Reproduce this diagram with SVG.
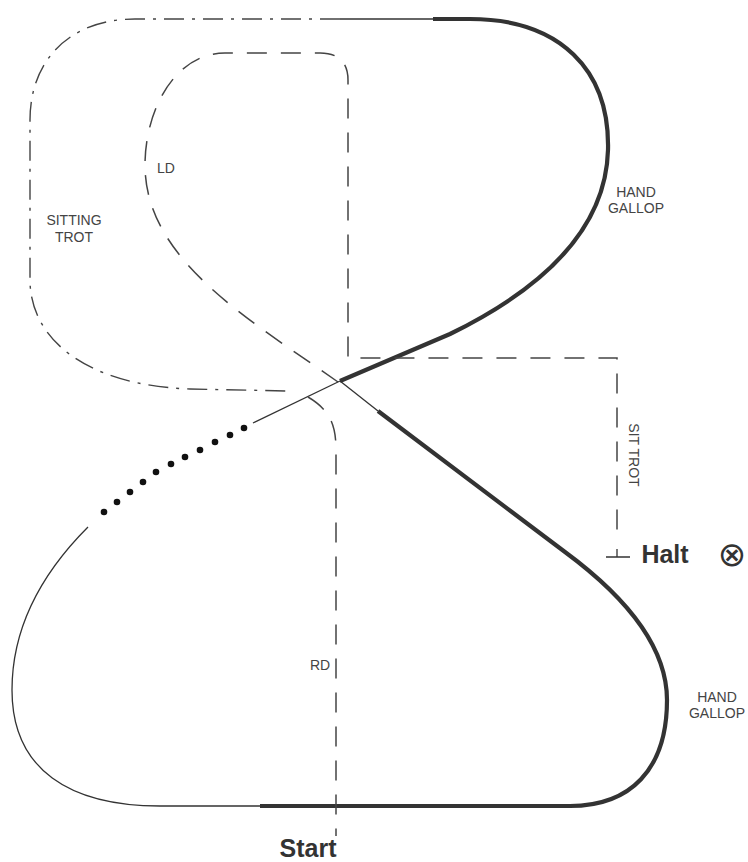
<svg xmlns="http://www.w3.org/2000/svg" width="748" height="862" viewBox="0 0 748 862">
<style>
.thin{fill:none;stroke:#333;stroke-width:1.3}
.thick{fill:none;stroke:#333;stroke-width:4.2}
.dd{fill:none;stroke:#444;stroke-width:1.4;stroke-dasharray:20 8 3 8}
.dash{fill:none;stroke:#444;stroke-width:1.5;stroke-dasharray:20 14}
.lbl{font-family:"Liberation Sans",Arial,sans-serif;font-size:14px;fill:#444;text-anchor:middle}
.big{font-family:"Liberation Sans",Arial,sans-serif;font-size:25px;font-weight:bold;fill:#333;text-anchor:middle}
.dot{fill:#111}
</style>
<rect width="748" height="862" fill="#fff"/>
<g id="connectors">
  <path class="dd" d="M 340,19 L 135,19 C 70,19 30,60 30,120 L 30,280 C 30,335 80,385 190,389 L 287,391"/>
  <path class="thin" d="M 340,19 L 433,19"/>
  <path class="thick" d="M 433,19 L 470,19 C 560,19 610,70 608,150 C 606,230 540,290 450,334 L 340,381"/>
  <path class="dash" d="M 338,382 C 250,320 145,260 145,165 C 145,110 175,53 225,53 L 320,53 C 338,53 348,62 348,80 L 348,358 L 617,358 L 617,533"/>
  <path class="thin" d="M 617,549 L 617,557 M 606,557 L 630,557"/>
  <path class="thin" d="M 340,381 L 253,423"/>
  <path class="thin" d="M 88,527 C 40,575 12,630 12,690 C 12,770 70,806 160,806 L 262,806"/>
  <path class="thin" d="M 340,381 L 378,411"/>
  <path class="thick" d="M 378,411 L 565,552 C 630,600 667,650 667,700 C 667,770 630,806 570,806 L 260,806"/>
  <path class="dash" d="M 308,397 C 330,410 336,425 336,450 L 336,836"/>
  <g id="dots">
    <circle class="dot" cx="244" cy="428" r="3.3"/>
    <circle class="dot" cx="230" cy="435" r="3.3"/>
    <circle class="dot" cx="215" cy="442" r="3.3"/>
    <circle class="dot" cx="200" cy="450" r="3.3"/>
    <circle class="dot" cx="185" cy="457" r="3.3"/>
    <circle class="dot" cx="171" cy="464" r="3.3"/>
    <circle class="dot" cx="156" cy="472" r="3.3"/>
    <circle class="dot" cx="143" cy="482" r="3.3"/>
    <circle class="dot" cx="130" cy="492" r="3.3"/>
    <circle class="dot" cx="117" cy="502" r="3.3"/>
    <circle class="dot" cx="104" cy="512" r="3.3"/>
  </g>
</g>
<g id="label-sitting-trot"><text class="lbl" x="74" y="225">SITTING</text><text class="lbl" x="74" y="242">TROT</text></g>
<g id="label-ld"><text class="lbl" x="166" y="173">LD</text></g>
<g id="label-hand-gallop-1"><text class="lbl" x="636" y="197">HAND</text><text class="lbl" x="636" y="213">GALLOP</text></g>
<g id="label-hand-gallop-2"><text class="lbl" x="717" y="702">HAND</text><text class="lbl" x="717" y="718">GALLOP</text></g>
<g id="label-rd"><text class="lbl" x="320" y="670">RD</text></g>
<g id="label-sit-trot"><text class="lbl" transform="translate(629,455) rotate(90)">SIT TROT</text></g>
<g id="label-halt"><text class="big" x="665" y="563">Halt</text></g>
<g id="halt-mark"><text x="732" y="566" style="font-family:'DejaVu Sans',sans-serif;font-size:34px;fill:#333;text-anchor:middle">⊗</text></g>
<g id="label-start"><text class="big" x="308" y="857">Start</text></g>
</svg>
